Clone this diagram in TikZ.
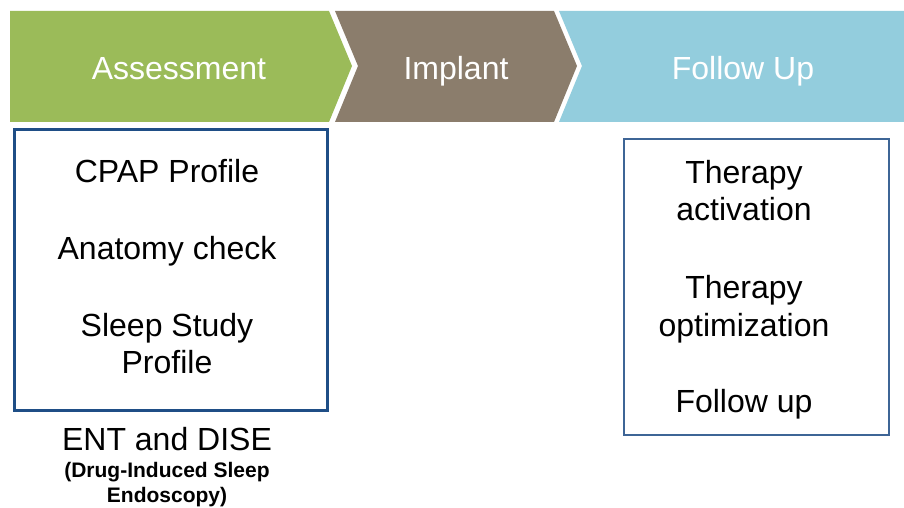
\documentclass[tikz,border=0pt]{standalone}
\usepackage{fontspec}
\setmainfont{Liberation Sans}
\definecolor{phasegreen}{HTML}{9BBB59}
\definecolor{phasebrown}{HTML}{8B7D6C}
\definecolor{phaseblue}{HTML}{93CDDD}
\definecolor{boxblueA}{HTML}{1F4E86}
\definecolor{boxblueB}{HTML}{3E6596}
\tikzset{
  phasetext/.style={text=white, font=\fontsize{32}{38}\selectfont, inner sep=0pt, anchor=base},
  itemtext/.style={text=black, font=\fontsize{32}{38}\selectfont, align=center, inner sep=0pt, anchor=base},
  notetext/.style={text=black, font=\fontsize{21}{21}\selectfont\bfseries, align=center, inner sep=0pt, anchor=base},
}
\begin{document}
\begin{tikzpicture}[x=1pt, y=-1pt]
\useasboundingbox (0,0) rectangle (904,508);
% phase chevrons
\fill[phasegreen] (10,11) -- (329,11) -- (352,66) -- (329,122) -- (10,122) -- cycle;
\fill[phasebrown] (335,11) -- (554,11) -- (577,66) -- (554,122) -- (335,122) -- (358,66) -- cycle;
\fill[phaseblue] (559,11) -- (904,11) -- (904,122) -- (559,122) -- (582,66) -- cycle;
\node[phasetext] (assess) at (179,80) {Assessment};
\node[phasetext] (implant) at (456,80) {Implant};
\node[phasetext] (follow) at (743,80) {Follow Up};
% assessment box
\draw[boxblueA, line width=3pt] (14.5,129.5) rectangle (327.5,410.5);
\node[itemtext] (cpap) at (167,182) {CPAP Profile};
\node[itemtext] (anat) at (167,259) {Anatomy check};
\node[itemtext] (sleep) at (167,336) {Sleep Study};
\node[itemtext] (prof) at (167,373) {Profile};
% follow-up box
\draw[boxblueB, line width=2pt] (623.5,138.5) rectangle (888.5,434.5);
\node[itemtext] (act1) at (744,183) {Therapy};
\node[itemtext] (act2) at (744,220) {activation};
\node[itemtext] (opt1) at (744,298) {Therapy};
\node[itemtext] (opt2) at (744,336) {optimization};
\node[itemtext] (fup) at (744,412) {Follow up};
% notes below the assessment box
\node[itemtext] (ent) at (167,450) {ENT and DISE};
\node[notetext] (dise1) at (167,477) {(Drug-Induced Sleep};
\node[notetext] (dise2) at (167,502) {Endoscopy)};
\end{tikzpicture}
\end{document}
